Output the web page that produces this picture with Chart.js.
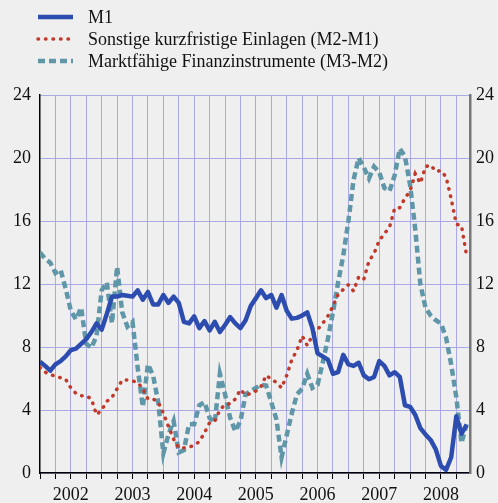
<!DOCTYPE html>
<html>
<head>
<meta charset="utf-8">
<script src="https://cdn.jsdelivr.net/npm/chart.js@4.4.1/dist/chart.umd.min.js"></script>
<style>
  html, body { margin: 0; padding: 0; background: #efefef; }
  #wrap { width: 498px; height: 503px; }
</style>
</head>
<body>
<div id="wrap"><canvas id="chart" width="498" height="503"></canvas></div>
<script>
// monthly data, Jan 2002 onwards
const years = ['2002', '2003', '2004', '2005', '2006', '2007', '2008'];
const yTicks = [0, 4, 8, 12, 16, 20, 24];
const seriesNames = ['M1', 'Sonstige kurzfristige Einlagen (M2-M1)', 'Marktfähige Finanzinstrumente (M3-M2)'];

const m1 = [7.07, 6.8, 6.5, 6.9, 7.1, 7.4, 7.8, 7.9, 8.2, 8.5,
    8.95, 9.5, 9.1, 10.1, 11.2, 11.2, 11.3, 11.25, 11.2, 11.6,
    11.0, 11.5, 10.7, 10.7, 11.3, 10.8, 11.2, 10.8, 9.6, 9.5,
    9.95, 9.2, 9.65, 9.05, 9.6, 8.95, 9.4, 9.9, 9.5, 9.2,
    9.7, 10.6, 11.1, 11.6, 11.1, 11.3, 10.5, 11.3, 10.3, 9.8,
    9.85, 10.0, 10.2, 9.2, 7.6, 7.4, 7.2, 6.3, 6.4, 7.5,
    6.9, 6.8, 7.0, 6.2, 5.95, 6.1, 7.1, 6.8, 6.2, 6.4,
    6.1, 4.3, 4.2, 3.7, 2.85, 2.45, 2.1, 1.5, 0.45, 0.2,
    1.0, 3.6, 2.5, 3.05];

const m2m1 = [6.7, 6.4, 6.25, 6.15, 6.05, 5.95, 5.4, 5.05, 4.9, 4.9,
    4.7, 3.7, 4.0, 4.55, 4.8, 5.35, 5.9, 5.9, 5.85, 5.75,
    5.35, 4.7, 4.7, 4.5, 3.8, 2.95, 2.15, 1.6, 1.6, 1.65,
    1.75, 2.0, 2.55, 3.2, 3.3, 4.0, 4.35, 4.4, 4.7, 5.3,
    4.95, 5.05, 5.2, 5.5, 6.2, 5.95, 5.75, 5.4, 6.2, 7.2,
    7.8, 8.7, 8.1, 8.75, 9.1, 9.5, 9.95, 10.6, 11.35, 11.65,
    11.95, 11.55, 12.45, 12.3, 13.45, 13.95, 14.75, 15.2, 15.6, 16.8,
    16.85, 17.45, 17.9, 19.0, 18.4, 19.45, 19.55, 19.15, 19.2, 18.8,
    17.4, 15.8, 15.7, 13.8];

const m3m2 = [14.0, 13.6, 13.35, 12.7, 12.9, 11.7, 10.3, 9.75, 10.5, 8.2,
    7.95, 8.7, 11.6, 12.1, 9.5, 13.1, 10.2, 9.3, 9.6, 6.7,
    4.2, 6.9, 6.2, 4.5, 1.25, 2.45, 3.3, 1.3, 1.45, 3.1,
    3.1, 4.3, 4.5, 3.5, 3.2, 6.3, 5.0, 3.5, 2.65, 3.3,
    5.0, 5.2, 5.4, 5.6, 5.55, 4.5, 3.4, 1.0, 2.4, 3.8,
    5.0, 5.35, 6.3, 5.4, 5.6, 7.0, 8.5, 10.2, 12.1, 13.8,
    16.0, 18.6, 20.0, 19.4, 18.7, 19.45, 19.1, 18.1, 17.9, 18.9,
    20.6, 20.1, 18.3, 15.5, 12.0, 10.5, 10.0, 9.7, 9.5, 8.6,
    6.9, 4.8, 1.9, 3.1];

const gridColor = '#a9a9e6';
const serif = '"Liberation Serif", "DejaVu Serif", serif';

function toPoints(arr) {
    return arr.map((v, i) => ({ x: i, y: v }));
}

const bgPlugin = {
    id: 'bg',
    beforeDraw(chart) {
        const ctx = chart.ctx;
        ctx.save();
        ctx.fillStyle = '#efefef';
        ctx.fillRect(0, 0, chart.width, chart.height);
        ctx.restore();
    }
};

// legend in a column at the top left
const legendPlugin = {
    id: 'columnLegend',
    afterDraw(chart) {
        const ctx = chart.ctx;
        ctx.save();
        chart.data.datasets.forEach((ds, i) => {
            const y = 17 + i * 22;
            ctx.strokeStyle = ds.borderColor;
            ctx.lineWidth = ds.borderWidth;
            ctx.setLineDash(ds.borderDash || []);
            ctx.lineCap = ds.borderCapStyle || 'butt';
            ctx.beginPath();
            ctx.moveTo(38, y);
            ctx.lineTo(73, y);
            ctx.stroke();
            ctx.setLineDash([]);
            ctx.fillStyle = '#111';
            ctx.font = '18px ' + serif;
            ctx.textBaseline = 'middle';
            ctx.fillText(ds.label, 88, y + 1);
        });
        ctx.restore();
    }
};

new Chart(document.getElementById('chart'), {
    type: 'line',
    data: {
        datasets: [{
            label: seriesNames[0],
            data: toPoints(m1),
            borderColor: '#2c4caf',
            borderWidth: 4.5,
            borderJoinStyle: 'round',
            pointRadius: 0
        }, {
            label: seriesNames[1],
            data: toPoints(m2m1),
            borderColor: '#c0392b',
            borderWidth: 3.5,
            borderDash: [0.5, 7],
            borderCapStyle: 'round',
            pointRadius: 0
        }, {
            label: seriesNames[2],
            data: toPoints(m3m2),
            borderColor: '#5f96a8',
            borderWidth: 4.5,
            borderDash: [7, 4],
            pointRadius: 0
        }]
    },
    options: {
        responsive: false,
        animation: false,
        layout: { padding: { top: 95, left: 0, right: 0, bottom: 0 } },
        plugins: {
            legend: { display: false },
            tooltip: { enabled: false }
        },
        scales: {
            x: {
                type: 'linear',
                min: 0,
                max: 83.66,
                afterBuildTicks: scale => {
                    const t = [];
                    for (let v = 0; v <= 81; v += 3) t.push({ value: v });
                    scale.ticks = t;
                },
                afterFit: scale => { scale.height = 30; },
                ticks: {
                    autoSkip: false,
                    maxRotation: 0,
                    padding: 5,
                    color: '#111',
                    font: { family: serif, size: 18 },
                    callback: v => (v % 12 === 6 ? years[(v - 6) / 12] : '')
                },
                grid: {
                    color: ctx => (ctx.tick && ctx.tick.value === 0 ? 'rgba(0,0,0,0)' : gridColor),
                    tickColor: '#000',
                    tickLength: 6,
                    lineWidth: 1
                },
                border: { display: true, color: '#000', width: 1.5 }
            },
            y: {
                position: 'left',
                min: 0,
                max: 24,
                afterBuildTicks: scale => { scale.ticks = yTicks.map(v => ({ value: v })); },
                afterFit: scale => { scale.width = 40; },
                ticks: {
                    padding: 9,
                    color: '#111',
                    font: { family: serif, size: 18 }
                },
                grid: { color: gridColor, drawTicks: false, lineWidth: 1 },
                border: { display: true, color: '#000', width: 1.5 }
            },
            y2: {
                position: 'right',
                min: 0,
                max: 24,
                afterBuildTicks: scale => { scale.ticks = yTicks.map(v => ({ value: v })); },
                afterFit: scale => { scale.width = 28; },
                ticks: {
                    padding: 6,
                    color: '#111',
                    font: { family: serif, size: 18 }
                },
                grid: { display: false, drawTicks: false },
                border: { display: true, color: '#777', width: 2.5 }
            }
        }
    },
    plugins: [bgPlugin, legendPlugin]
});
</script>
</body>
</html>
